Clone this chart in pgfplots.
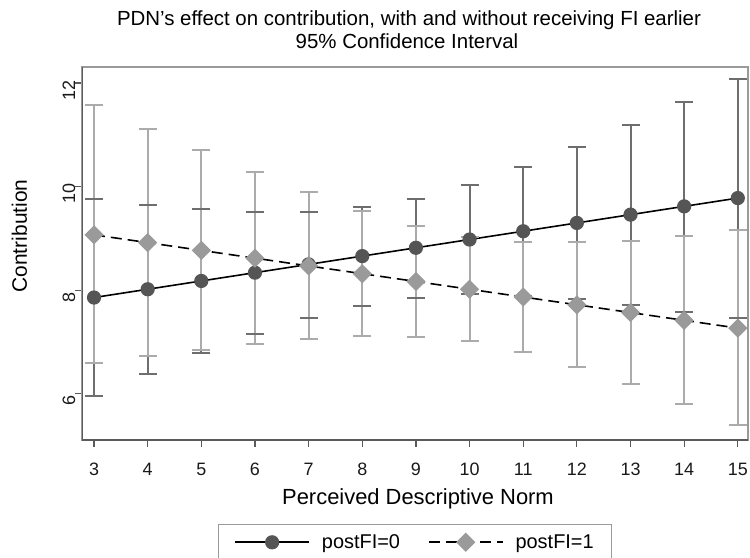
\documentclass[border=0pt]{standalone}
\usepackage{fontspec}
\setmainfont{Liberation Sans}
\usepackage{pgfplots}
\pgfplotsset{compat=1.18}
\usepackage{pgfplotstable}

\definecolor{dkser}{HTML}{555555}
\definecolor{ltser}{HTML}{9A9A9A}
\definecolor{dkci}{HTML}{6E6E6E}
\definecolor{ltci}{HTML}{ABABAB}
\definecolor{frame}{HTML}{9A9A9A}
\definecolor{axisln}{HTML}{5A5A5A}

% margins at PDN = 3..15, 95% CI
\pgfplotstableread{
x  y    lo   hi
3  7.86 5.95 9.76
4  8.02 6.38 9.64
5  8.18 6.79 9.56
6  8.34 7.15 9.52
7  8.50 7.47 9.52
8  8.66 7.70 9.60
9  8.82 7.86 9.77
10 8.98 7.93 10.03
11 9.14 7.89 10.38
12 9.30 7.83 10.77
13 9.46 7.72 11.19
14 9.62 7.59 11.63
15 9.78 7.47 12.08
}\postzero

\pgfplotstableread{
x  y    lo   hi
3  9.07 6.59 11.57
4  8.92 6.73 11.12
5  8.77 6.85 10.70
6  8.62 6.97 10.28
7  8.47 7.06 9.89
8  8.32 7.12 9.53
9  8.17 7.10 9.25
10 8.02 7.02 9.02
11 7.87 6.81 8.93
12 7.72 6.52 8.93
13 7.57 6.19 8.96
14 7.42 5.81 9.04
15 7.27 5.39 9.16
}\postone

\begin{document}
\begin{tikzpicture}
\begin{axis}[
    at={(0,0)}, anchor=south west,
    scale only axis,
    width=666bp, height=373bp,
    xmin=2.776, xmax=15.19,
    ymin=5.11, ymax=12.31,
    xtick={3,4,...,15},
    ytick={6,8,10,12},
    xtick pos=bottom, ytick pos=left,
    tick align=outside,
    major tick length=7bp,
    tick style={line width=1.2bp, axisln},
    axis line style={line width=1.4bp, frame},
    /pgf/number format/assume math mode=true,
    ticklabel style={font=\fontsize{18}{18}\selectfont, text=black!90},
    xticklabel style={anchor=base, yshift=-28bp},
    yticklabel style={rotate=90, anchor=base, xshift=-7bp},
    legend columns=2,
    legend style={at={(axis description cs:0.5,0)}, yshift=-84bp, anchor=north,
        draw=frame, line width=1.2bp, font=\fontsize{20}{20}\selectfont,
        inner xsep=16bp, inner ysep=8bp,
        /tikz/every odd column/.append style={column sep=10bp},
        /tikz/every even column/.append style={column sep=26bp}},
    legend image code/.code={
        \draw[mark repeat=2, mark phase=2, #1]
            plot coordinates {(0bp,0bp) (37bp,0bp) (74bp,0bp)};},
]
% confidence intervals: bars and caps
\addplot[only marks, mark=none, forget plot,
    error bars/.cd, y dir=both, y explicit, error mark=none,
    error bar style={dkci, line width=2bp}]
    table[x=x, y=y, y error plus expr=\thisrow{hi}-\thisrow{y},
          y error minus expr=\thisrow{y}-\thisrow{lo}] {\postzero};
\addplot[only marks, mark=-, mark size=9bp, forget plot,
    mark options={dkci, line width=2bp}] table[x=x, y=lo] {\postzero};
\addplot[only marks, mark=-, mark size=9bp, forget plot,
    mark options={dkci, line width=2bp}] table[x=x, y=hi] {\postzero};
\addplot[only marks, mark=none, forget plot,
    error bars/.cd, y dir=both, y explicit, error mark=none,
    error bar style={ltci, line width=2bp}]
    table[x=x, y=y, y error plus expr=\thisrow{hi}-\thisrow{y},
          y error minus expr=\thisrow{y}-\thisrow{lo}] {\postone};
\addplot[only marks, mark=-, mark size=9bp, forget plot,
    mark options={ltci, line width=2bp}] table[x=x, y=lo] {\postone};
\addplot[only marks, mark=-, mark size=9bp, forget plot,
    mark options={ltci, line width=2bp}] table[x=x, y=hi] {\postone};
% margins
\addplot[black, line width=1.6bp, mark=*, mark size=6.3bp,
    mark options={solid, fill=dkser, draw=dkser}]
    table[x=x, y=y] {\postzero};
\addplot[black, line width=1.6bp, dash pattern=on 11bp off 6bp,
    mark=square*, mark size=6bp,
    mark options={solid, rotate=45, fill=ltser, draw=ltser}]
    table[x=x, y=y] {\postone};
\legend{postFI=0, postFI=1}

\draw[axisln, line width=1.4bp] (rel axis cs:0,1) -- (rel axis cs:0,0) -- (rel axis cs:1,0);
\end{axis}

\node[font=\fontsize{20.5}{20.5}\selectfont, anchor=base] at (327bp,414bp)
    {PDN's effect on contribution, with and without receiving FI earlier};
\node[font=\fontsize{20.5}{20.5}\selectfont, anchor=base] at (325bp,391bp)
    {95\% Confidence Interval};
\node[font=\fontsize{22}{22}\selectfont, anchor=base] at (336bp,-64bp)
    {Perceived Descriptive Norm};
\node[font=\fontsize{21}{21}\selectfont, anchor=base, rotate=90] at (-55bp,204bp)
    {Contribution};

\pgfresetboundingbox
\path[use as bounding box] (-82bp,-118bp) rectangle (668bp,440bp);
\end{tikzpicture}
\end{document}
